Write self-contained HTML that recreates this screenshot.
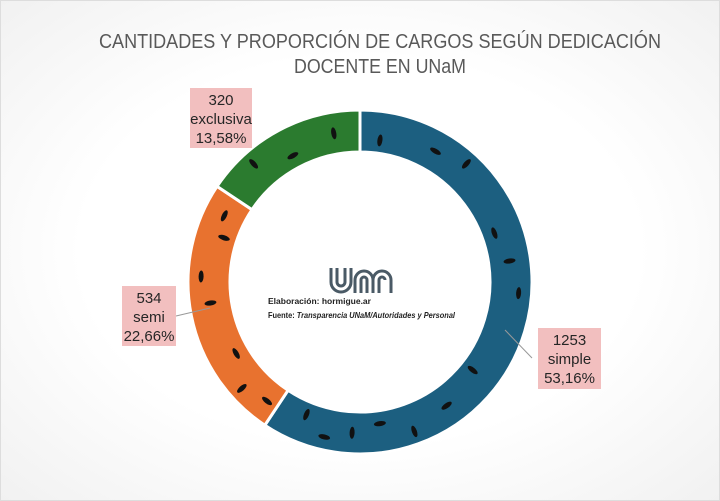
<!DOCTYPE html>
<html><head><meta charset="utf-8"><style>
html,body{margin:0;padding:0;}
body{width:720px;height:501px;overflow:hidden;background:#fff;}
.lbl{position:absolute;background:#f2bfbf;color:#262626;font-family:"Liberation Sans",sans-serif;font-size:15px;line-height:19px;text-align:center;box-sizing:border-box;padding-top:3px;}
</style></head><body>
<div style="position:absolute;left:0;top:0;width:718px;height:499px;border:1px solid #ddd;background:radial-gradient(ellipse at center,#ffffff 55%,#f1f1f1 100%);"></div>
<svg width="720" height="501" style="position:absolute;left:0;top:0">
<g font-family="Liberation Sans, sans-serif" fill="#595959" font-size="20" text-anchor="middle">
<text x="380" y="48" textLength="562" lengthAdjust="spacingAndGlyphs">CANTIDADES Y PROPORCIÓN DE CARGOS SEGÚN DEDICACIÓN</text>
<text x="380" y="73" textLength="172" lengthAdjust="spacingAndGlyphs">DOCENTE EN UNaM</text>
</g>
<g stroke="#fff" stroke-width="3">
<path id="s" fill="#1c5f80"/>
<path id="m" fill="#e8722f"/>
<path id="e" fill="#2b7b2f"/>
</g>
<g id="ants" fill="#111"></g>
<line x1="176" y1="316" x2="210" y2="308" stroke="#999" stroke-width="1"/>
<line x1="505" y1="330" x2="532" y2="358" stroke="#999" stroke-width="1"/>
<g fill="none" stroke="#4a5a66" stroke-width="3">
<path d="M331 268 v14 a10 10 0 0 0 20 0 v-14"/>
<path d="M337 268 v14 a4 4 0 0 0 8 0 v-14"/>
<path d="M355 293 v-13 a9 9 0 0 1 18 0 v13 M373 280 a9 9 0 0 1 18 0 v13"/>
<path d="M361 293 v-13 a3 3 0 0 1 6 0 v13 M379 293 v-13 a3 3 0 0 1 6 0"/>
</g>
<g font-family="Liberation Sans, sans-serif" font-size="8.5" font-weight="bold" fill="#222">
<text x="268" y="304">Elaboración: hormigue.ar</text>
<text x="268" y="318" textLength="187" lengthAdjust="spacingAndGlyphs">Fuente: <tspan font-style="italic">Transparencia UNaM/Autoridades y Personal</tspan></text>
</g>
</svg>
<div class="lbl" style="left:190px;top:88px;width:62px;height:60px;">320<br>exclusiva<br>13,58%</div>
<div class="lbl" style="left:122px;top:286px;width:54px;height:60px;">534<br>semi<br>22,66%</div>
<div class="lbl" style="left:538px;top:328px;width:63px;height:61px;">1253<br>simple<br>53,16%</div>
<script>
var cx=360,cy=282,R=172,r=130;
function p(a,rad){a=(a-90)*Math.PI/180;return [cx+rad*Math.cos(a),cy+rad*Math.sin(a)];}
function arc(a0,a1){var L=(a1-a0)>180?1:0,o0=p(a0,R),o1=p(a1,R),i1=p(a1,r),i0=p(a0,r);
return "M"+o0+" A"+R+" "+R+" 0 "+L+" 1 "+o1+" L"+i1+" A"+r+" "+r+" 0 "+L+" 0 "+i0+"Z";}
var a1=213.6,a2=303.8;
document.getElementById('s').setAttribute('d',arc(0,a1));
document.getElementById('m').setAttribute('d',arc(a1,a2));
document.getElementById('e').setAttribute('d',arc(a2,360));
var g=document.getElementById('ants'),s="";
[8,30,42,70,82,94,128,145,160,172,183,193,202,218,228,240,262,272,288,296,318,332,350].forEach(function(a,i){
var q=p(a,151+((i%3)-1)*8);s+='<ellipse cx="'+q[0]+'" cy="'+q[1]+'" rx="6" ry="2.5" transform="rotate('+(a+(i%2?0:90))+' '+q[0]+' '+q[1]+')"/>';});
g.innerHTML=s;
</script>
</body></html>
